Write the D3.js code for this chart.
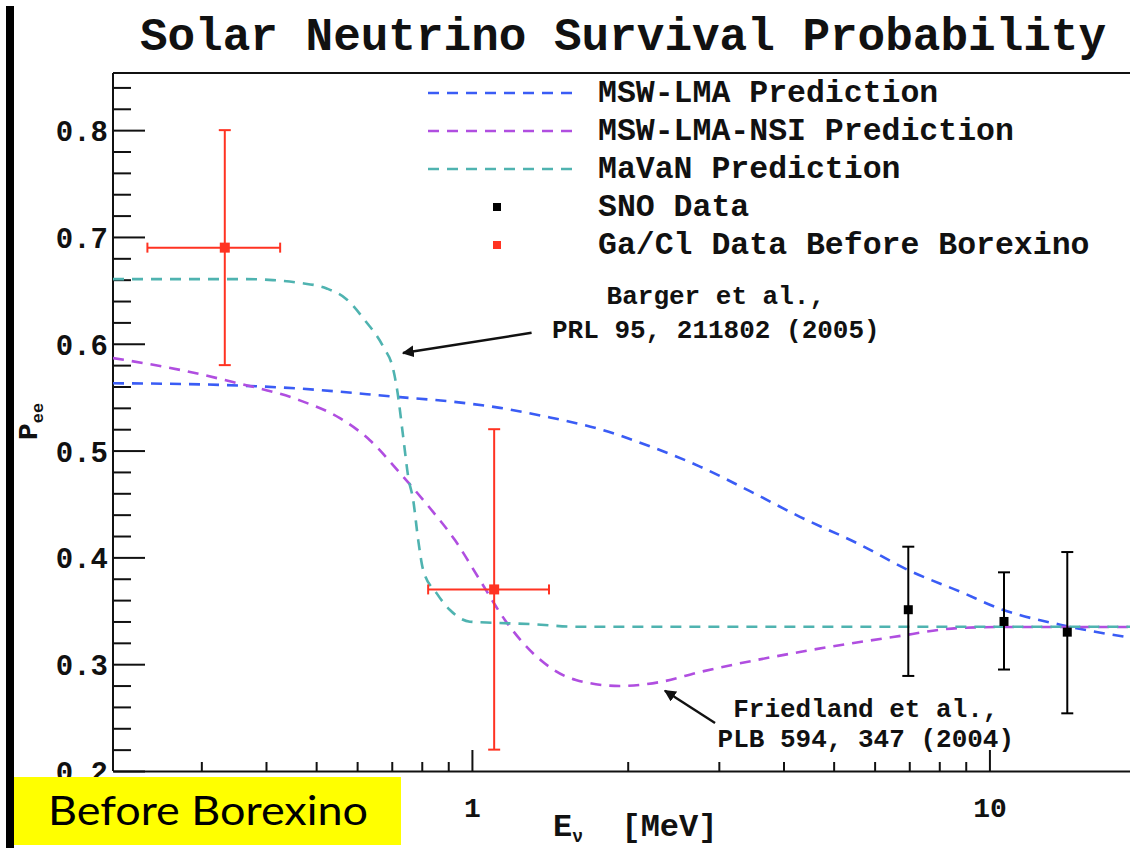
<!DOCTYPE html>
<html>
<head>
<meta charset="utf-8">
<script src="https://cdn.jsdelivr.net/npm/d3@7"></script>
<style>
  html, body { margin: 0; padding: 0; background: #fff; }
  svg { display: block; }
  .mono { font-family: "Liberation Mono", "DejaVu Sans Mono", monospace; font-weight: bold; }
</style>
</head>
<body>
<svg id="chart" width="1130" height="848"></svg>
<script>
// ---------------- data ----------------
const title = "Solar Neutrino Survival Probability";

// MSW-LMA prediction (E in MeV, Pee)
const lmaE = [0.2025, 0.298, 0.465, 0.726, 0.907, 1.133, 1.415, 1.767, 2.208, 2.758, 3.445, 4.303, 5.62, 6.97, 8.77, 10.6, 13.7, 18.7, 20];
const lmaP = [0.563, 0.562, 0.558, 0.550, 0.546, 0.540, 0.531, 0.520, 0.504, 0.485, 0.462, 0.438, 0.412, 0.388, 0.368, 0.351, 0.337, 0.325, 0.323];

// MSW-LMA-NSI prediction
const nsiE = [0.2025, 0.2764, 0.3452, 0.465, 0.5557, 0.635, 0.726, 0.8294, 0.9271, 1.036, 1.158, 1.330, 1.588, 1.93, 2.31, 2.76, 4.30, 6.51, 8.77, 10.6, 20];
const nsiP = [0.5866, 0.575, 0.5642, 0.547, 0.5304, 0.5097, 0.4789, 0.4462, 0.4162, 0.3788, 0.3414, 0.3076, 0.2852, 0.2796, 0.2833, 0.2927, 0.3114, 0.3254, 0.3339, 0.3348, 0.3348];

// MaVaN prediction
const mavE = [0.2025, 0.367, 0.4125, 0.465, 0.524, 0.573, 0.621, 0.674, 0.705, 0.7154, 0.7365, 0.7531, 0.770, 0.7874, 0.805, 0.855, 0.907, 0.991, 1.099, 1.295, 1.593, 2.76, 20];
const mavP = [0.6605, 0.6605, 0.6596, 0.657, 0.6518, 0.6415, 0.622, 0.5972, 0.5754, 0.5597, 0.5129, 0.4755, 0.4537, 0.4162, 0.3882, 0.3663, 0.3507, 0.3398, 0.3388, 0.3376, 0.3351, 0.335, 0.335];

// SNO data
const snoE  = [6.97, 10.67, 14.14];
const snoP  = [0.351, 0.340, 0.330];
const snoLo = [0.289, 0.295, 0.254];
const snoHi = [0.410, 0.386, 0.405];

// Ga/Cl data before Borexino
const gaE   = [0.333, 1.104];
const gaELo = [0.236, 0.823];
const gaEHi = [0.426, 1.409];
const gaP   = [0.69, 0.37];
const gaPLo = [0.58, 0.22];
const gaPHi = [0.80, 0.52];

// axes
const yMajor = [0.2, 0.3, 0.4, 0.5, 0.6, 0.7, 0.8];
const yMinor = [0.22,0.24,0.26,0.28,0.32,0.34,0.36,0.38,0.42,0.44,0.46,0.48,0.52,0.54,0.56,0.58,0.62,0.64,0.66,0.68,0.72,0.74,0.76,0.78,0.82,0.84];
const xMajor = [1, 10];
const xMajorLabels = ["1", "10"];
const xMinor = [0.3,0.4,0.5,0.6,0.7,0.8,0.9,2,3,4,5,6,7,8,9];

const legendLabels = ["MSW-LMA Prediction", "MSW-LMA-NSI Prediction", "MaVaN Prediction", "SNO Data", "Ga/Cl Data Before Borexino"];
const legendKinds  = ["line", "line", "line", "marker", "marker"];

const annotations = [
  { lines: ["Barger et al.,", "PRL 95, 211802 (2005)"], tx: 2.96, ty: [0.637, 0.6053], from: [1.304, 0.6103], to: [0.736, 0.5913] },
  { lines: ["Friedland et al.,", "PLB 594, 347 (2004)"], tx: 5.77, ty: [0.2505, 0.2225], from: [2.95, 0.2449], to: [2.36, 0.2752] }
];

const badge = "Before Borexino";

// ---------------- styles ----------------
const C = { lma: "#3a5cf5", nsi: "#b04ee0", mav: "#4fb3b0", sno: "#000000", ga: "#ff3322" };
const colors = [C.lma, C.nsi, C.mav, C.sno, C.ga];

// ---------------- layout ----------------
const L = 113, T = 73, B = 771, R = 1145;
const svg = d3.select("#chart");
svg.append("rect").attr("width", 1130).attr("height", 848).attr("fill", "#fff");

const x = d3.scaleLog().domain([0.2025, 20]).range([L, L + 517.5 * Math.log10(20 / 0.2025)]);
const y = d3.scaleLinear().domain([0.2, 0.8535]).range([B, T]);

svg.append("clipPath").attr("id", "plotclip")
  .append("rect").attr("x", L).attr("y", T).attr("width", R - L).attr("height", B - T);

// title
svg.append("text").attr("class", "mono")
  .attr("x", 623).attr("y", 50).attr("text-anchor", "middle")
  .attr("font-size", 46).attr("fill", "#111").text(title);

// frame top line
svg.append("line").attr("x1", L).attr("x2", R).attr("y1", T).attr("y2", T)
  .attr("stroke", "#111").attr("stroke-width", 2);

// y axis
const yAxisMinor = svg.append("g").attr("transform", `translate(${L},0)`)
  .call(d3.axisLeft(y).tickValues(yMinor).tickSize(-18).tickSizeOuter(0).tickFormat(""));
const yAxis = svg.append("g").attr("transform", `translate(${L},0)`)
  .call(d3.axisLeft(y).tickValues(yMajor).tickSize(-32).tickSizeOuter(0).tickPadding(5).tickFormat(d3.format(".1f")));
yAxis.select(".domain").attr("d", `M0,${T}V${B}`);
yAxisMinor.select(".domain").remove();
yAxis.selectAll("text").attr("class", "mono").attr("font-size", 29).attr("fill", "#111").attr("dy", "0.36em");

// x axis
const xAxisMinor = svg.append("g").attr("transform", `translate(0,${B})`)
  .call(d3.axisBottom(x).tickValues(xMinor).tickSize(-9).tickSizeOuter(0).tickFormat(""));
xAxisMinor.select(".domain").remove();
const xAxis = svg.append("g").attr("transform", `translate(0,${B})`)
  .call(d3.axisBottom(x).tickValues(xMajor).tickSize(-21).tickSizeOuter(0).tickPadding(26)
    .tickFormat((d, i) => xMajorLabels[i]));
xAxis.selectAll("text").attr("class", "mono").attr("font-size", 28).attr("fill", "#111");
svg.selectAll(".domain, .tick line").attr("stroke", "#111").attr("stroke-width", 2);

// axis titles
const xt = svg.append("text").attr("class", "mono").attr("x", 553).attr("y", 836)
  .attr("font-size", 32).attr("fill", "#111");
xt.append("tspan").text("E");
xt.append("tspan").attr("font-size", 18).attr("dy", 6).text("\u03bd");
xt.append("tspan").attr("dy", -6).attr("xml:space", "preserve").text("  [MeV]");

const yt = svg.append("text").attr("class", "mono")
  .attr("transform", "translate(37,440) rotate(-90)").attr("font-size", 28).attr("fill", "#111");
yt.append("tspan").text("P");
yt.append("tspan").attr("font-size", 17).attr("dy", 6).text("ee");

// curves
const plot = svg.append("g").attr("clip-path", "url(#plotclip)");
const line = d3.line().x(d => x(d[0])).y(d => y(d[1])).curve(d3.curveMonotoneX);
const series = [
  { e: lmaE, p: lmaP, c: C.lma },
  { e: nsiE, p: nsiP, c: C.nsi },
  { e: mavE, p: mavP, c: C.mav }
];
series.forEach(s => {
  plot.append("path").datum(s.e.map((e, i) => [e, s.p[i]]))
    .attr("d", line).attr("fill", "none").attr("stroke", s.c)
    .attr("stroke-width", 2.6).attr("stroke-dasharray", "11,8");
});

// error bars + markers
function vbar(g, xv, lo, hi, col) {
  g.append("line").attr("x1", x(xv)).attr("x2", x(xv)).attr("y1", y(lo)).attr("y2", y(hi))
    .attr("stroke", col).attr("stroke-width", 2);
  [lo, hi].forEach(v => g.append("line").attr("x1", x(xv) - 6).attr("x2", x(xv) + 6)
    .attr("y1", y(v)).attr("y2", y(v)).attr("stroke", col).attr("stroke-width", 2));
}
function hbar(g, yv, lo, hi, col) {
  g.append("line").attr("x1", x(lo)).attr("x2", x(hi)).attr("y1", y(yv)).attr("y2", y(yv))
    .attr("stroke", col).attr("stroke-width", 2);
  [lo, hi].forEach(v => g.append("line").attr("x1", x(v)).attr("x2", x(v))
    .attr("y1", y(yv) - 5).attr("y2", y(yv) + 5).attr("stroke", col).attr("stroke-width", 2));
}
snoE.forEach((e, i) => {
  vbar(plot, e, snoLo[i], snoHi[i], C.sno);
  plot.append("rect").attr("x", x(e) - 4.5).attr("y", y(snoP[i]) - 4.5).attr("width", 9).attr("height", 9).attr("fill", C.sno);
});
gaE.forEach((e, i) => {
  vbar(plot, e, gaPLo[i], gaPHi[i], C.ga);
  hbar(plot, gaP[i], gaELo[i], gaEHi[i], C.ga);
  plot.append("rect").attr("x", x(e) - 5).attr("y", y(gaP[i]) - 5).attr("width", 10).attr("height", 10).attr("fill", C.ga);
});

// legend
const leg = svg.append("g");
legendLabels.forEach((lab, i) => {
  const cy = 93 + i * 38;
  if (legendKinds[i] === "line") {
    leg.append("line").attr("x1", 428).attr("x2", 573).attr("y1", cy).attr("y2", cy)
      .attr("stroke", colors[i]).attr("stroke-width", 2.6).attr("stroke-dasharray", "11,8");
  } else {
    leg.append("rect").attr("x", 493).attr("y", cy - 4).attr("width", 8).attr("height", 8).attr("fill", colors[i]);
  }
  leg.append("text").attr("class", "mono").attr("x", 598).attr("y", cy + 9)
    .attr("font-size", 31.5).attr("fill", "#111").text(lab);
});

// annotations
svg.append("defs").append("marker").attr("id", "arrow").attr("viewBox", "0 0 10 10")
  .attr("refX", 9).attr("refY", 5).attr("markerWidth", 5).attr("markerHeight", 5)
  .attr("orient", "auto").attr("markerUnits", "strokeWidth")
  .append("path").attr("d", "M0,0L10,5L0,10z").attr("fill", "#111");
annotations.forEach(a => {
  a.lines.forEach((t, j) => {
    svg.append("text").attr("class", "mono").attr("x", x(a.tx)).attr("y", y(a.ty[j]))
      .attr("text-anchor", "middle").attr("font-size", 26).attr("fill", "#111").text(t);
  });
  svg.append("line").attr("x1", x(a.from[0])).attr("y1", y(a.from[1]))
    .attr("x2", x(a.to[0])).attr("y2", y(a.to[1]))
    .attr("stroke", "#111").attr("stroke-width", 2.4).attr("marker-end", "url(#arrow)");
});

// badge
svg.append("rect").attr("x", 14).attr("y", 777).attr("width", 387).attr("height", 68).attr("fill", "#ffff00");
svg.append("text").attr("x", 48).attr("y", 825).attr("font-family", "Lato, 'Open Sans', sans-serif")
  .attr("font-size", 40).attr("fill", "#000").attr("textLength", 320).attr("lengthAdjust", "spacingAndGlyphs").text(badge);

// left black bar
svg.append("rect").attr("x", 6).attr("y", 6).attr("width", 8).attr("height", 842).attr("fill", "#000");
</script>
</body>
</html>
